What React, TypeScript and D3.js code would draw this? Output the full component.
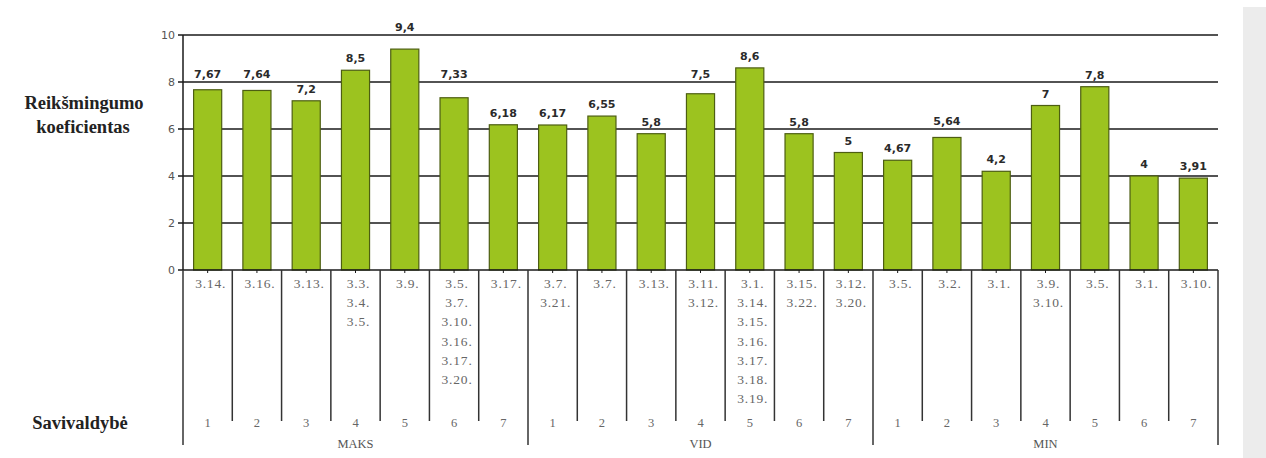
import React from 'react';
import * as d3 from 'd3';

// Reikšmingumo koeficientai pagal grupes
const groups = ['MAKS', 'VID', 'MIN'];
const subLabels = ['1', '2', '3', '4', '5', '6', '7'];

const maksValues = [7.67, 7.64, 7.2, 8.5, 9.4, 7.33, 6.18];
const vidValues = [6.17, 6.55, 5.8, 7.5, 8.6, 5.8, 5];
const minValues = [4.67, 5.64, 4.2, 7, 7.8, 4, 3.91];

const maksCodes = [
  ['3.14.'], ['3.16.'], ['3.13.'], ['3.3.', '3.4.', '3.5.'], ['3.9.'],
  ['3.5.', '3.7.', '3.10.', '3.16.', '3.17.', '3.20.'], ['3.17.'],
];
const vidCodes = [
  ['3.7.', '3.21.'], ['3.7.'], ['3.13.'], ['3.11.', '3.12.'],
  ['3.1.', '3.14.', '3.15.', '3.16.', '3.17.', '3.18.', '3.19.'],
  ['3.15.', '3.22.'], ['3.12.', '3.20.'],
];
const minCodes = [
  ['3.5.'], ['3.2.'], ['3.1.'], ['3.9.', '3.10.'], ['3.5.'], ['3.1.'], ['3.10.'],
];

const yTicks = [0, 2, 4, 6, 8, 10];

const W = 1266;
const H = 458;

const values = [...maksValues, ...vidValues, ...minValues];
const codes = [...maksCodes, ...vidCodes, ...minCodes];
const perGroup = subLabels.length;

const fmt = (v: number) => String(v).replace('.', ',');

const App: React.FC = () => {
  const left = 183;
  const right = 1218;
  const axisBottom = 270;

  const x = d3.scaleBand<number>()
    .domain(d3.range(values.length))
    .range([left, right])
    .paddingInner(0.43)
    .paddingOuter(0.215);
  const step = x.step();
  const cx = (i: number) => x(i)! + x.bandwidth() / 2;

  const y = d3.scaleLinear().domain([0, 10]).range([axisBottom, 35]);

  const gridYs = yTicks.filter(t => t > 0).map(t => y(t));

  // label sits above the bar, pushed over a gridline when they would collide
  const labelY = (v: number) => {
    let base = y(v) - 8;
    for (const g of gridYs) {
      if (g >= base - 10 && g <= base + 1) base = g - 4;
    }
    return base;
  };

  const serif = '"Liberation Serif", "DejaVu Serif", serif';
  const sans = '"DejaVu Sans", Verdana, sans-serif';

  return (
    <svg width={W} height={H} style={{ position: 'absolute', left: 0, top: 0, background: '#fff' }}>
      <rect x={1243} y={7} width={W - 1243} height={H - 7} fill="#ececec" />

      {/* titles */}
      <g fontFamily={serif} fontWeight="bold" fontSize={18.5} fill="#222" textAnchor="middle">
        <text x={84} y={109}>Reikšmingumo</text>
        <text x={83} y={133}>koeficientas</text>
        <text x={80} y={429}>Savivaldybė</text>
      </g>

      {/* gridlines */}
      {gridYs.map((gy, i) => (
        <line key={i} x1={left} x2={right} y1={gy} y2={gy} stroke="#1a1a1a" strokeWidth={1.5} />
      ))}

      {/* bars */}
      {values.map((v, i) => (
        <rect key={i}
          x={x(i)!} y={y(v)}
          width={x.bandwidth()} height={axisBottom - y(v)}
          fill="#9cc31f" stroke="#4d5e12" strokeWidth={1.2} />
      ))}

      {/* value labels */}
      <g fontFamily={sans} fontWeight="bold" fontSize={11} fill="#2a2a2a" textAnchor="middle">
        {values.map((v, i) => (
          <text key={i} x={cx(i)} y={labelY(v)}>{fmt(v)}</text>
        ))}
      </g>

      {/* y axis */}
      <line x1={left} x2={left} y1={y(10)} y2={axisBottom} stroke="#1a1a1a" strokeWidth={1.5} />
      <line x1={left} x2={right} y1={axisBottom} y2={axisBottom} stroke="#1a1a1a" strokeWidth={1.5} />
      {yTicks.map(t => (
        <g key={t}>
          <line x1={left - 5} x2={left} y1={y(t)} y2={y(t)} stroke="#1a1a1a" strokeWidth={1.5} />
          <text x={left - 8} y={y(t) + 4} textAnchor="end" fontFamily={sans} fontSize={11} fill="#555">{t}</text>
        </g>
      ))}
      {values.map((_, i) => (
        <line key={i} x1={cx(i)} x2={cx(i)}
          y1={axisBottom} y2={axisBottom + 3} stroke="#1a1a1a" strokeWidth={1} />
      ))}

      {/* category table separators */}
      {d3.range(values.length + 1).map(i => {
        const sx = left + i * step;
        const long = i % perGroup === 0;
        return (
          <line key={i} x1={sx} x2={sx} y1={axisBottom} y2={long ? 445 : 421}
            stroke="#333" strokeWidth={1.5} />
        );
      })}

      {/* codes under bars */}
      <g fontFamily={serif} fontSize={13.5} fill="#666" textAnchor="middle" letterSpacing={0.8}>
        {codes.map((lines, i) => (
          <text key={i} x={cx(i) + 3} y={288}>
            {lines.map((l, j) => (
              <tspan key={j} x={cx(i) + 3} dy={j === 0 ? 0 : 19.2}>{l}</tspan>
            ))}
          </text>
        ))}
      </g>

      {/* municipality numbers and groups */}
      <g fontFamily={serif} fontSize={12.5} fill="#666" textAnchor="middle">
        {values.map((_, i) => (
          <text key={i} x={cx(i)} y={427}>{subLabels[i % perGroup]}</text>
        ))}
        {groups.map((g, gi) => (
          <text key={g} x={left + (gi + 0.5) * perGroup * step} y={448} fill="#555">{g}</text>
        ))}
      </g>
    </svg>
  );
};

export default App;
